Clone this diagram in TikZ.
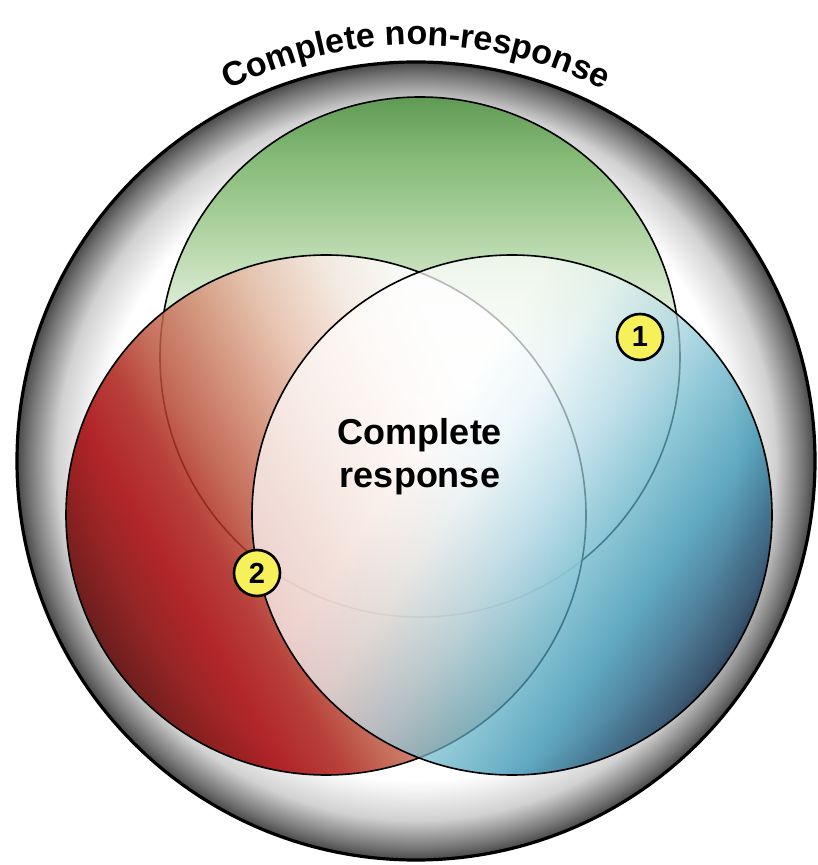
\documentclass[tikz,border=0pt]{standalone}
\usepackage{fontspec}
\setmainfont{Liberation Sans}
\usetikzlibrary{decorations.text}

\definecolor{badgeyellow}{HTML}{F6F05A}

\pgfdeclareradialshading{ringshade}{\pgfpointorigin}{color(0bp)=(white); color(20bp)=(white); color(22.5bp)=(black!18); color(24.3bp)=(black!55); color(25bp)=(black!72); color(50bp)=(black!72)}
\pgfdeclareverticalshading{greenshade}{100bp}{color(0bp)=(white); color(45bp)=(white); color(52bp)=(rgb,255:red,234;green,244;blue,230); color(57bp)=(rgb,255:red,207;green,229;blue,198); color(63bp)=(rgb,255:red,169;green,208;blue,156); color(69bp)=(rgb,255:red,134;green,187;blue,120); color(75bp)=(rgb,255:red,95;green,154;blue,84); color(100bp)=(rgb,255:red,95;green,154;blue,84)}
\pgfdeclareverticalshading{redshade}{100bp}{color(0bp)=(rgb,255:red,92;green,0;blue,0); color(25bp)=(rgb,255:red,92;green,0;blue,0); color(30bp)=(rgb,255:red,134;green,0;blue,0); color(34bp)=(rgb,255:red,165;green,0;blue,5); color(39bp)=(rgb,255:red,172;green,31;blue,24); color(43bp)=(rgb,255:red,186;green,80;blue,59); color(49bp)=(rgb,255:red,209;green,137;blue,111); color(55bp)=(rgb,255:red,233;green,191;blue,172); color(62bp)=(rgb,255:red,251;green,235;blue,231); color(68bp)=(white); color(100bp)=(white)}
\pgfdeclareverticalshading{blueshade}{100bp}{color(0bp)=(rgb,255:red,0;green,29;blue,64); color(25bp)=(rgb,255:red,0;green,29;blue,64); color(30bp)=(rgb,255:red,12;green,78;blue,115); color(35bp)=(rgb,255:red,35;green,136;blue,169); color(42bp)=(rgb,255:red,101;green,179;blue,200); color(48bp)=(rgb,255:red,171;green,213;blue,227); color(55bp)=(rgb,255:red,232;green,245;blue,248); color(61bp)=(white); color(100bp)=(white)}

\begin{document}
\begin{tikzpicture}[
    x=0.5pt,y=0.5pt,
    setcircle/.style={draw=black, line width=0.8pt},
    badge/.style={draw, circle, line width=1.3pt, fill=badgeyellow, minimum size=23pt, inner sep=0pt, font=\fontsize{14.5}{14.5}\selectfont\bfseries}
]
    \useasboundingbox (-416,-404) rectangle (401,461);

    % --- Centres ---
    \coordinate (O) at (0,0);
    \coordinate (G) at (4,104);
    \coordinate (R) at (-90,-54);
    \coordinate (B) at (96,-54);
    \def\rad{260}

    % --- Outer sphere ---
    \shade[shading=ringshade] (O) circle[radius=399];
    \draw[line width=1.6pt] (O) circle[radius=399];

    % --- Overlapping circles ---
    \shadedraw[setcircle, shading=greenshade] (G) circle[radius=\rad];
    \shadedraw[setcircle, shading=redshade, shading angle=-60, fill opacity=0.85] (R) circle[radius=\rad];
    \shadedraw[setcircle, shading=blueshade, shading angle=55, fill opacity=0.72] (B) circle[radius=\rad];

    % --- Labels ---
    \node[badge] (one) at (224,124) {1};
    \node[badge] (two) at (-159,-112) {2};
    \node[font=\fontsize{18}{21.5}\selectfont\bfseries, align=center] (cresp) at (4,4) {Complete\\response};

    \path[decorate, decoration={text along path, text align=center,
        text={|\fontsize{17}{20}\selectfont\bfseries|Complete non-response}}]
        (118:416) arc[start angle=118, end angle=62, radius=416];

\end{tikzpicture}
\end{document}
